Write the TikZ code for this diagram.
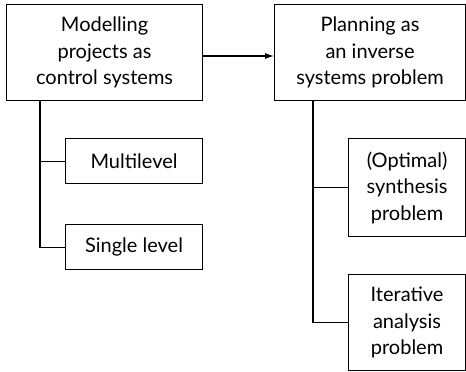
\documentclass[tikz,border=0pt]{standalone}
\usepackage{fontspec}
\setmainfont{Lato}
\usetikzlibrary{arrows.meta}
\begin{document}
\begin{tikzpicture}[x=1pt,y=-1pt,
  box/.style={draw, line width=1.1pt, anchor=north west, inner sep=0pt,
    align=center, font=\fontsize{20}{26.5}\selectfont},
  link/.style={line width=1.1pt},
  flow/.style={link, -{Latex[length=9pt,width=6pt]}}]
\useasboundingbox (0,0) rectangle (466,372);
% top row
\node[box, minimum width=196pt, minimum height=96pt] (model) at (6,4)
  {Modelling\\projects as\\control systems};
\node[box, minimum width=191pt, minimum height=96pt] (plan) at (274,4)
  {Planning as\\an inverse\\systems problem};
% left branches
\node[box, minimum width=137pt, minimum height=45pt] (multi) at (65,138) {Multilevel};
\node[box, minimum width=137pt, minimum height=45pt] (single) at (65,224) {Single level};
% right branches
\node[box, minimum width=117pt, minimum height=98pt] (synth) at (348,138)
  {(Optimal)\\synthesis\\problem};
\node[box, minimum width=117pt, minimum height=96pt] (iter) at (348,274)
  {Iterative\\analysis\\problem};
% connectors: one trunk per parent, short stubs to the upper child
\draw[flow] (model.east |- 0,56) -- (plan.west |- 0,56);
\draw[link] (model.south -| 40,0) |- (single.west);
\draw[link] (multi.west -| 40,0) -- (multi.west);
\draw[link] (plan.south -| 313,0) |- (iter.west);
\draw[link] (synth.west -| 313,0) -- (synth.west);
\end{tikzpicture}
\end{document}
